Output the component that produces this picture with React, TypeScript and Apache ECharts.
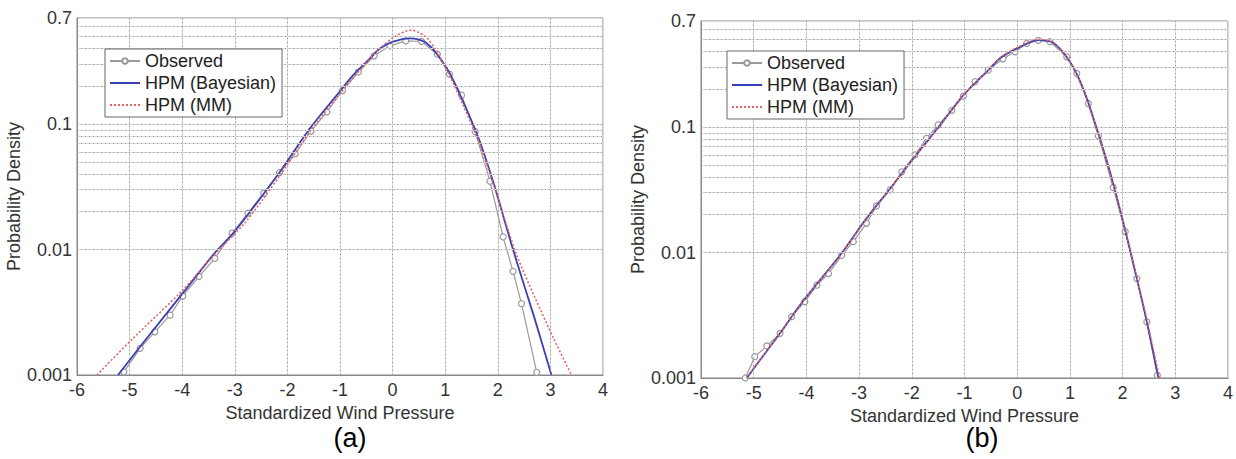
import React, { useEffect, useRef } from "react";
import * as echarts from "echarts";

// ---------- axis settings ----------
const xMin = -6;
const xMax = 4;
const yMin = 0.001;
const yMax = 0.7;
const seriesNames = ["Observed", "HPM (Bayesian)", "HPM (MM)"];
const xGridLines = [-5, -4, -3, -2, -1, 0, 1, 2, 3];
const yMajorLines = [0.001, 0.01, 0.1];
const yMinorLines = [
  0.002, 0.003, 0.004, 0.005, 0.006, 0.007, 0.008, 0.009,
  0.02, 0.03, 0.04, 0.05, 0.06, 0.07, 0.08, 0.09,
  0.2, 0.3, 0.4, 0.5, 0.6,
];
const panelLabels = ["(a)", "(b)"];

// ---------- panel (a) ----------
const obsAX = [-5.11, -4.8, -4.52, -4.23, -3.99, -3.68, -3.38, -3.05, -2.75, -2.45, -2.15, -1.85, -1.55, -1.25, -0.95, -0.65, -0.35, -0.05, 0.25, 0.55, 0.85, 1.08, 1.31, 1.57, 1.85, 2.1, 2.29, 2.45, 2.74];
const obsAY = [0.00106, 0.00163, 0.00221, 0.003, 0.00426, 0.0061, 0.0085, 0.0135, 0.0195, 0.028, 0.041, 0.058, 0.088, 0.125, 0.185, 0.26, 0.35, 0.42, 0.46, 0.455, 0.36, 0.25, 0.17, 0.087, 0.035, 0.0126, 0.0067, 0.0037, 0.00105];

const bayAX = [-5.22, -4.67, -3.95, -3.4, -3.03, -2.6, -2.14, -1.57, -1.06, -0.75, -0.43, -0.24, 0.01, 0.33, 0.65, 1.03, 1.34, 1.66, 1.95, 2.17, 2.36, 2.68, 3.02];
const bayAY = [0.001, 0.00197, 0.0047, 0.0092, 0.0135, 0.023, 0.0417, 0.0925, 0.17, 0.245, 0.334, 0.4, 0.453, 0.482, 0.44, 0.278, 0.151, 0.0723, 0.0308, 0.0148, 0.008, 0.003, 0.001];

const mmAX = [-5.62, -4.93, -4.0, -3.4, -2.8, -2.14, -1.57, -1.06, -0.6, -0.24, 0.05, 0.35, 0.62, 0.8, 1.03, 1.34, 1.66, 1.95, 2.17, 2.36, 2.7, 3.06, 3.4];
const mmAY = [0.001, 0.00197, 0.0047, 0.009, 0.0165, 0.039, 0.087, 0.163, 0.275, 0.4, 0.5, 0.56, 0.5, 0.4, 0.27, 0.142, 0.068, 0.03, 0.0155, 0.009, 0.0042, 0.00196, 0.001];

// ---------- panel (b) ----------
const obsBX = [-5.16, -4.98, -4.75, -4.5, -4.28, -4.03, -3.8, -3.58, -3.33, -3.11, -2.86, -2.67, -2.41, -2.19, -1.94, -1.72, -1.5, -1.24, -1.02, -0.8, -0.55, -0.27, -0.04, 0.18, 0.4, 0.62, 0.94, 1.13, 1.35, 1.54, 1.82, 2.05, 2.27, 2.46, 2.66];
const obsBY = [0.001, 0.00148, 0.0018, 0.00227, 0.00308, 0.00406, 0.0055, 0.0068, 0.0095, 0.0122, 0.0171, 0.0235, 0.0316, 0.044, 0.06, 0.0813, 0.104, 0.136, 0.176, 0.23, 0.284, 0.35, 0.398, 0.464, 0.49, 0.48, 0.363, 0.268, 0.154, 0.085, 0.033, 0.0147, 0.0062, 0.0028, 0.00105];

const bayBX = [-5.13, -4.88, -4.5, -4.12, -3.33, -2.86, -2.41, -1.97, -1.46, -1.02, -0.58, -0.33, 0.0, 0.4, 0.69, 1.0, 1.25, 1.51, 1.76, 2.01, 2.27, 2.46, 2.68];
const bayBY = [0.001, 0.00139, 0.00227, 0.00382, 0.0099, 0.0187, 0.0324, 0.0562, 0.104, 0.18, 0.275, 0.352, 0.424, 0.493, 0.467, 0.331, 0.203, 0.097, 0.0441, 0.0176, 0.0062, 0.0028, 0.001];

const mmBX = [-5.14, -4.88, -4.5, -4.12, -3.33, -2.86, -2.41, -1.97, -1.46, -1.02, -0.58, -0.33, 0.0, 0.4, 0.69, 1.0, 1.25, 1.51, 1.76, 2.01, 2.27, 2.47, 2.7];
const mmBY = [0.001, 0.0014, 0.00228, 0.00383, 0.0098, 0.0186, 0.0322, 0.056, 0.103, 0.179, 0.276, 0.355, 0.43, 0.5, 0.47, 0.33, 0.2, 0.096, 0.0442, 0.0178, 0.0063, 0.0028, 0.001];

// ---------- styling ----------
const FONT = "'Liberation Sans', Arial, Helvetica, sans-serif";
const TEXT = "#333";
const GRID_SOLID = "#d9d9d9";
const GRID_DOT = "#999999";
const OBS_COLOR = "#9a9a9a";
const BAY_COLOR = "#3b3fb4";
const MM_COLOR = "#e36464";

const pairs = (xs: number[], ys: number[]) => xs.map((x, i) => [x, ys[i]]);

const gridRects = [
  { left: 77, top: 18, width: 526, height: 357 },
  { left: 701, top: 21, width: 527, height: 357 },
];
const legendPos = [
  { left: 105, top: 49 },
  { left: 727, top: 51 },
];
const captionPos = [
  { x: 350, y: 438 },
  { x: 982, y: 438 },
];

function buildSeries(idx: number, obs: number[][], bay: number[][], mm: number[][]) {
  const gridLineData: any[] = [];
  yMinorLines.forEach((v) =>
    gridLineData.push({ yAxis: v, lineStyle: { color: GRID_SOLID, width: 1, type: "solid" } })
  );
  [...yMajorLines, ...yMinorLines].forEach((v) =>
    gridLineData.push({ yAxis: v, lineStyle: { color: GRID_DOT, width: 1, type: [1, 3] } })
  );
  xGridLines.forEach((v) =>
    gridLineData.push({ xAxis: v, lineStyle: { color: GRID_DOT, width: 1, type: [1, 3] } })
  );
  return [
    {
      name: "_grid" + idx,
      type: "line",
      xAxisIndex: idx,
      yAxisIndex: idx,
      data: [],
      z: 1,
      silent: true,
      markLine: {
        silent: true,
        symbol: ["none", "none"],
        label: { show: false },
        emphasis: { disabled: true },
        animation: false,
        data: gridLineData,
      },
    },
    {
      name: seriesNames[0],
      type: "line",
      xAxisIndex: idx,
      yAxisIndex: idx,
      data: obs,
      z: 3,
      symbol: "circle",
      symbolSize: 6,
      showSymbol: true,
      lineStyle: { color: OBS_COLOR, width: 1.2 },
      itemStyle: { color: "#ffffff", borderColor: OBS_COLOR, borderWidth: 1.2 },
      clip: true,
    },
    {
      name: seriesNames[1],
      type: "line",
      xAxisIndex: idx,
      yAxisIndex: idx,
      data: bay,
      z: 4,
      smooth: 0.3,
      symbol: "none",
      lineStyle: { color: BAY_COLOR, width: 1.8 },
      itemStyle: { color: BAY_COLOR },
      clip: true,
    },
    {
      name: seriesNames[2],
      type: "line",
      xAxisIndex: idx,
      yAxisIndex: idx,
      data: mm,
      z: 5,
      smooth: 0.3,
      symbol: "none",
      lineStyle: { color: MM_COLOR, width: 1.6, type: [2, 2] },
      itemStyle: { color: MM_COLOR },
      clip: true,
    },
  ];
}

export default function App() {
  const ref = useRef<HTMLDivElement>(null);

  useEffect(() => {
    document.body.style.margin = "0";
    if (!ref.current) return;
    const chart = echarts.init(ref.current, undefined, { renderer: "svg" });

    const xAxes = gridRects.map((_, i) => ({
      type: "value",
      gridIndex: i,
      min: xMin,
      max: xMax,
      interval: 1,
      name: "Standardized Wind Pressure",
      nameLocation: "middle",
      nameGap: 24,
      nameTextStyle: { fontSize: 18, color: TEXT, fontFamily: FONT },
      axisLine: { show: true, onZero: false, lineStyle: { color: "#888", width: 1 } },
      axisTick: { show: false },
      axisLabel: { fontSize: 18, color: TEXT, fontFamily: FONT, margin: 6 },
      splitLine: { show: true, lineStyle: { color: GRID_SOLID, width: 1 } },
    }));

    const yAxes = gridRects.map((_, i) => ({
      type: "log",
      logBase: 10,
      gridIndex: i,
      min: yMin,
      max: yMax,
      name: "Probability Density",
      nameLocation: "middle",
      nameGap: 49,
      nameRotate: 90,
      nameTextStyle: { fontSize: 18, color: TEXT, fontFamily: FONT },
      axisLine: { show: true, onZero: false, lineStyle: { color: "#888", width: 1 } },
      axisTick: { show: false },
      axisLabel: {
        fontSize: 18,
        color: TEXT,
        fontFamily: FONT,
        margin: 5,
        formatter: (v: number) => String(Number(Number(v).toPrecision(2))),
      },
      splitLine: { show: true, lineStyle: { color: GRID_SOLID, width: 1 } },
    }));

    const legendData = [
      { name: seriesNames[0] },
      { name: seriesNames[1], itemStyle: { opacity: 0 } },
      { name: seriesNames[2], itemStyle: { opacity: 0 } },
    ];

    const option: any = {
      animation: false,
      backgroundColor: "#ffffff",
      grid: gridRects.map((g) => ({
        ...g,
        show: true,
        borderColor: "#888",
        borderWidth: 1,
        backgroundColor: "#ffffff",
        containLabel: false,
      })),
      xAxis: xAxes,
      yAxis: yAxes,
      legend: legendPos.map((p) => ({
        ...p,
        orient: "vertical",
        data: legendData,
        selectedMode: false,
        backgroundColor: "#ffffff",
        borderColor: "#666",
        borderWidth: 1,
        padding: [3, 6, 3, 4],
        itemGap: 4,
        itemWidth: 30,
        itemHeight: 7,
        textStyle: { fontSize: 18, color: "#222", fontFamily: FONT },
        z: 10,
      })),
      graphic: panelLabels.map((t, i) => ({
        type: "text",
        x: captionPos[i].x,
        y: captionPos[i].y,
        style: {
          text: t,
          fontSize: 27,
          fontFamily: FONT,
          fill: "#000",
          textAlign: "center",
          textVerticalAlign: "middle",
        },
      })),
      series: [
        ...buildSeries(0, pairs(obsAX, obsAY), pairs(bayAX, bayAY), pairs(mmAX, mmAY)),
        ...buildSeries(1, pairs(obsBX, obsBY), pairs(bayBX, bayBY), pairs(mmBX, mmBY)),
      ],
    };

    chart.setOption(option);
    return () => chart.dispose();
  }, []);

  return <div ref={ref} style={{ width: 1236, height: 459 }} />;
}
